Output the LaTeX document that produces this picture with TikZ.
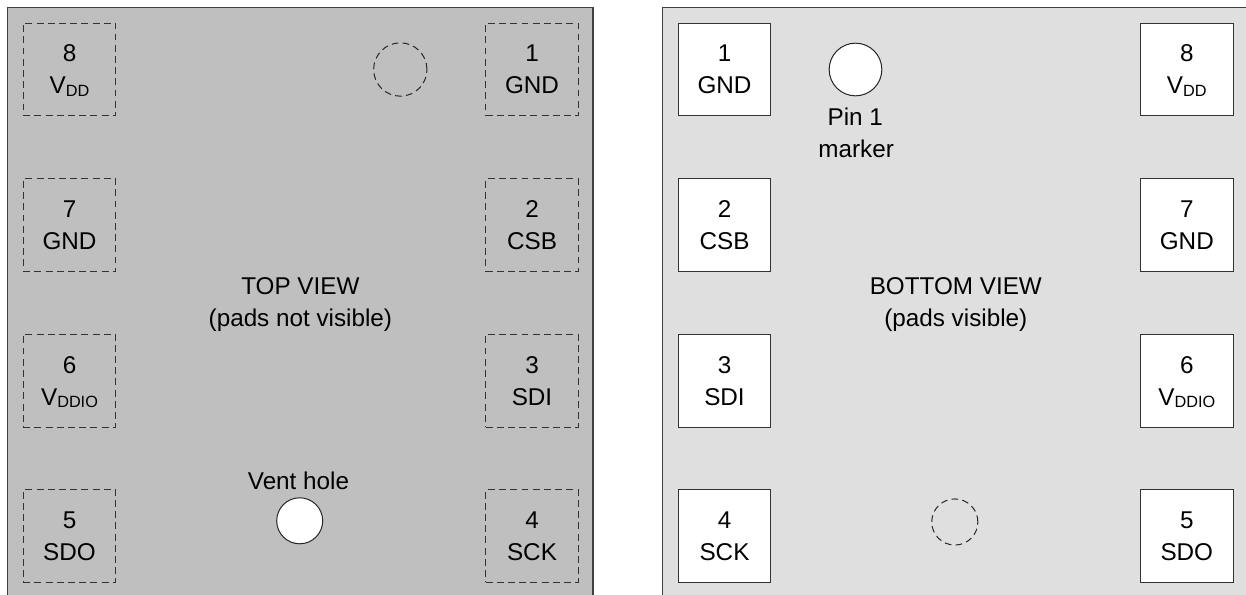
\documentclass[tikz,border=0pt]{standalone}
\usepackage{fontspec}
\setmainfont{Liberation Sans}
\newcommand{\subs}[1]{\smash{\raisebox{-2pt}{\fontsize{12.2}{12}\selectfont #1}}}
\tikzset{
  x=0.75pt,y=-0.75pt,
  txt/.style={font=\fontsize{18.2}{24}\selectfont,text=black,inner sep=0pt,anchor=base},
  padbox/.style={minimum width=69.5pt,minimum height=69.5pt,inner sep=0pt,align=center,
     font=\fontsize{18.2}{24}\selectfont,line width=0.75pt,draw=black!80},
  toppad/.style={padbox,dash pattern=on 5.2pt off 3.2pt},
  botpad/.style={padbox,fill=white},
  hole/.style={circle,draw=black!85,fill=white,line width=0.75pt,inner sep=0pt},
  ghost/.style={circle,draw=black!85,line width=0.75pt,dash pattern=on 5pt off 3.2pt,inner sep=0pt},
  panel/.style={draw=black!75,line width=0.9pt},
}
\begin{document}
\begin{tikzpicture}
\useasboundingbox (0,0) rectangle (1246,595);
% panels (open at the lower and right picture edges)
\fill[fill=black!25] (7.5,7.5) rectangle (593,596);
\draw[panel] (7.5,596) -- (7.5,7.5) -- (593,7.5) -- (593,596);
\fill[fill=black!12.5] (662.7,7.5) rectangle (1247,596);
\draw[panel] (662.7,596) -- (662.7,7.5) -- (1247,7.5);
% top view pads
\node[toppad] (t8) at (69.5,69.5) {8\\V\subs{DD}};
\node[toppad] (t7) at (69.5,225.3) {7\\GND};
\node[toppad] (t6) at (69.5,380.7) {6\\V\subs{DDIO}};
\node[toppad] (t5) at (69.5,536) {5\\SDO};
\node[toppad] (t1) at (532,69.5) {1\\GND};
\node[toppad] (t2) at (532,225.3) {2\\CSB};
\node[toppad] (t3) at (532,380.7) {3\\SDI};
\node[toppad] (t4) at (532,536) {4\\SCK};
\node[ghost,minimum size=40pt] (tg) at (400.3,69.5) {};
\node[hole,minimum size=34.5pt] (vent) at (299.7,520.8) {};
\node[txt] (ventl) at (298.5,489.5) {Vent hole};
\node[txt] (tvl1) at (300.4,295) {TOP VIEW};
\node[txt] (tvl2) at (300.4,326.7) {(pads not visible)};
% bottom view pads
\node[botpad] (b1) at (724.5,69.5) {1\\GND};
\node[botpad] (b2) at (724.5,225.3) {2\\CSB};
\node[botpad] (b3) at (724.5,380.7) {3\\SDI};
\node[botpad] (b4) at (724.5,536) {4\\SCK};
\node[botpad] (b8) at (1186.8,69.5) {8\\V\subs{DD}};
\node[botpad] (b7) at (1186.8,225.3) {7\\GND};
\node[botpad] (b6) at (1186.8,380.7) {6\\V\subs{DDIO}};
\node[botpad] (b5) at (1186.8,536) {5\\SDO};
\node[hole,minimum size=39.5pt] (pin) at (855.5,69.5) {};
\node[txt] (pinl1) at (855.3,126) {Pin 1};
\node[txt] (pinl2) at (856.2,157.7) {marker};
\node[ghost,minimum size=34.6pt] (bg) at (954.8,522) {};
\node[txt] (bvl1) at (955.8,295) {BOTTOM VIEW};
\node[txt] (bvl2) at (955.8,326.7) {(pads visible)};
\end{tikzpicture}
\end{document}
